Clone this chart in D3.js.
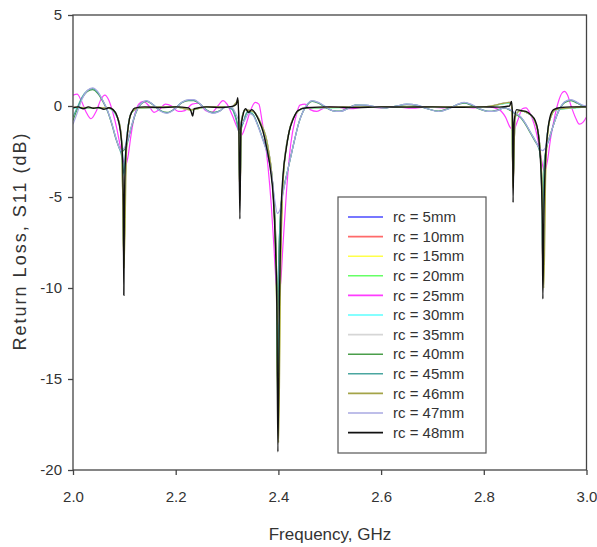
<!DOCTYPE html>
<html>
<head>
<meta charset="UTF-8">
<script src="https://d3js.org/d3.v7.min.js"></script>
<style>
  body { margin: 0; background: #fff; }
  svg { font-family: 'Liberation Sans', Arial, sans-serif; }
  .axis text { font-size: 15px; fill: #333; }
  .axis line { stroke: #444; stroke-width: 1.3; }
</style>
</head>
<body>
<svg id="chart" width="597" height="547"></svg>
<script>
// --- data: [frequency GHz, S11 dB] ---
const xTicks = [2.0, 2.2, 2.4, 2.6, 2.8, 3.0];
const yTicks = [-20, -15, -10, -5, 0, 5];

const seriesNames = ["rc = 5mm", "rc = 10mm", "rc = 15mm", "rc = 20mm", "rc = 25mm", "rc = 30mm",
  "rc = 35mm", "rc = 40mm", "rc = 45mm", "rc = 46mm", "rc = 47mm", "rc = 48mm"];

const rc5 = [[2.00,-0.08],[2.04,-0.10],[2.07,-0.12],[2.08,-0.30],[2.09,-0.90],[2.095,-2.0],[2.099,-8.5],[2.103,-2.6],[2.108,-1.0],[2.115,-0.30],[2.13,-0.10],[2.20,-0.05],[2.23,-0.20],[2.26,-0.05],[2.31,-0.05],[2.322,0.30],[2.325,-5.0],[2.328,-0.80],[2.335,-0.20],[2.35,-0.30],[2.365,-0.90],[2.38,-2.3],[2.39,-4.8],[2.396,-9.5],[2.399,-16.0],[2.403,-9.0],[2.41,-3.6],[2.42,-1.5],[2.43,-0.60],[2.45,-0.10],[2.60,-0.05],[2.80,-0.05],[2.854,0.20],[2.857,-4.2],[2.861,-0.60],[2.87,-0.25],[2.89,-0.45],[2.905,-1.3],[2.912,-3.6],[2.915,-9.0],[2.920,-3.0],[2.928,-0.80],[2.94,-0.20],[3.00,-0.05]];
const rc10 = [[2.00,-0.06],[2.04,-0.12],[2.07,-0.10],[2.08,-0.32],[2.09,-0.95],[2.095,-2.1],[2.099,-8.8],[2.103,-2.7],[2.108,-1.05],[2.115,-0.32],[2.13,-0.10],[2.20,-0.06],[2.23,-0.22],[2.26,-0.06],[2.31,-0.04],[2.322,0.30],[2.325,-5.2],[2.328,-0.85],[2.335,-0.22],[2.35,-0.30],[2.365,-0.95],[2.38,-2.35],[2.39,-4.9],[2.396,-9.8],[2.399,-16.5],[2.403,-9.3],[2.41,-3.7],[2.42,-1.55],[2.43,-0.62],[2.45,-0.12],[2.60,-0.05],[2.80,-0.06],[2.854,0.20],[2.857,-4.4],[2.861,-0.62],[2.87,-0.26],[2.89,-0.47],[2.905,-1.35],[2.912,-3.7],[2.915,-9.2],[2.920,-3.1],[2.928,-0.82],[2.94,-0.20],[3.00,-0.05]];
const rc15 = [[2.00,-0.07],[2.04,-0.11],[2.07,-0.11],[2.08,-0.31],[2.09,-0.92],[2.095,-2.05],[2.099,-8.6],[2.103,-2.65],[2.108,-1.02],[2.115,-0.31],[2.13,-0.10],[2.20,-0.05],[2.23,-0.21],[2.26,-0.05],[2.31,-0.05],[2.322,0.28],[2.325,-5.0],[2.328,-0.82],[2.335,-0.21],[2.35,-0.30],[2.365,-0.92],[2.38,-2.32],[2.39,-4.85],[2.396,-9.9],[2.400,-17.5],[2.404,-9.2],[2.41,-3.65],[2.42,-1.52],[2.43,-0.61],[2.45,-0.11],[2.60,-0.05],[2.80,-0.05],[2.854,0.18],[2.857,-4.0],[2.861,-0.61],[2.87,-0.25],[2.89,-0.46],[2.905,-1.32],[2.912,-3.65],[2.916,-9.0],[2.921,-3.05],[2.928,-0.81],[2.94,-0.20],[3.00,-0.05]];
const rc20 = [[2.00,-0.09],[2.04,-0.10],[2.07,-0.13],[2.08,-0.33],[2.09,-0.93],[2.095,-2.08],[2.099,-8.7],[2.103,-2.68],[2.108,-1.03],[2.115,-0.33],[2.13,-0.11],[2.20,-0.06],[2.23,-0.21],[2.26,-0.06],[2.31,-0.05],[2.322,0.29],[2.325,-5.1],[2.328,-0.83],[2.335,-0.22],[2.35,-0.31],[2.365,-0.93],[2.38,-2.33],[2.39,-4.88],[2.396,-9.7],[2.399,-17.0],[2.403,-9.2],[2.41,-3.68],[2.42,-1.53],[2.43,-0.62],[2.45,-0.12],[2.60,-0.06],[2.80,-0.05],[2.854,0.19],[2.857,-4.3],[2.861,-0.62],[2.87,-0.26],[2.89,-0.46],[2.905,-1.33],[2.912,-3.66],[2.915,-9.1],[2.920,-3.08],[2.928,-0.82],[2.94,-0.21],[3.00,-0.06]];
const rc25 = [[2.000,0.60],[2.008,0.65],[2.016,0.30],[2.025,-0.30],[2.035,-0.70],[2.045,-0.30],[2.055,0.40],[2.062,0.60],[2.070,0.30],[2.078,-0.40],[2.085,-1.20],[2.092,-2.20],[2.098,-3.00],[2.102,-3.30],[2.107,-2.80],[2.113,-1.60],[2.120,-0.50],[2.128,0.10],[2.137,0.25],[2.148,0.00],[2.158,-0.35],[2.168,-0.20],[2.180,0.10],[2.192,0.00],[2.205,-0.30],[2.218,-0.25],[2.232,0.10],[2.245,0.15],[2.258,-0.25],[2.270,-0.35],[2.282,0.00],[2.292,0.30],[2.300,0.10],[2.310,-0.50],[2.320,-1.20],[2.328,-1.60],[2.336,-1.10],[2.345,-0.30],[2.355,0.20],[2.362,0.10],[2.368,-0.80],[2.374,-1.90],[2.380,-3.40],[2.386,-5.40],[2.391,-7.60],[2.396,-9.80],[2.400,-10.2],[2.404,-9.80],[2.409,-7.60],[2.416,-4.60],[2.424,-2.10],[2.433,-0.70],[2.442,0.05],[2.452,0.10],[2.462,-0.20],[2.475,-0.30],[2.490,-0.10],[2.510,-0.05],[2.540,-0.15],[2.570,-0.05],[2.600,-0.10],[2.630,-0.05],[2.660,-0.12],[2.690,-0.05],[2.720,-0.10],[2.750,-0.05],[2.780,-0.10],[2.810,-0.05],[2.830,-0.20],[2.842,-0.60],[2.852,-1.20],[2.858,-1.30],[2.866,-0.80],[2.875,-0.15],[2.882,-0.10],[2.890,-0.40],[2.898,-1.00],[2.905,-1.80],[2.912,-2.90],[2.918,-3.60],[2.924,-3.00],[2.930,-1.80],[2.938,-0.60],[2.946,0.30],[2.952,0.70],[2.957,0.80],[2.963,0.60],[2.970,0.00],[2.978,-0.60],[2.986,-1.00],[2.993,-0.90],[3.000,-0.60]];
const rc30 = [[2.00,-0.10],[2.04,-0.12],[2.07,-0.12],[2.08,-0.35],[2.09,-0.95],[2.095,-2.0],[2.099,-3.8],[2.103,-2.2],[2.108,-0.95],[2.115,-0.32],[2.13,-0.10],[2.20,-0.06],[2.23,-0.20],[2.26,-0.06],[2.31,-0.05],[2.322,0.25],[2.325,-4.8],[2.328,-0.80],[2.335,-0.22],[2.35,-0.32],[2.365,-0.95],[2.38,-2.4],[2.39,-4.9],[2.396,-9.0],[2.399,-15.0],[2.403,-8.6],[2.41,-3.7],[2.42,-1.55],[2.43,-0.62],[2.45,-0.12],[2.60,-0.06],[2.80,-0.06],[2.854,0.18],[2.857,-4.0],[2.861,-0.60],[2.87,-0.26],[2.89,-0.47],[2.905,-1.35],[2.912,-3.6],[2.915,-8.5],[2.920,-3.0],[2.928,-0.80],[2.94,-0.21],[3.00,-0.06]];
const rc35 = [[2.00,-0.05],[2.04,-0.09],[2.07,-0.10],[2.08,-0.28],[2.09,-0.88],[2.095,-1.95],[2.099,-9.0],[2.103,-2.6],[2.108,-1.0],[2.115,-0.30],[2.13,-0.09],[2.20,-0.05],[2.23,-0.19],[2.26,-0.05],[2.31,-0.04],[2.322,0.32],[2.325,-5.5],[2.328,-0.85],[2.335,-0.20],[2.35,-0.29],[2.365,-0.88],[2.38,-2.25],[2.39,-4.7],[2.396,-8.4],[2.399,-12.0],[2.403,-8.2],[2.41,-3.6],[2.42,-1.5],[2.43,-0.60],[2.45,-0.10],[2.60,-0.04],[2.80,-0.05],[2.854,0.22],[2.857,-4.6],[2.861,-0.62],[2.87,-0.24],[2.89,-0.44],[2.905,-1.3],[2.912,-3.6],[2.915,-9.5],[2.920,-3.1],[2.928,-0.80],[2.94,-0.19],[3.00,-0.04]];
const rc40 = [[2.000,-0.80],[2.008,-0.20],[2.018,0.45],[2.028,0.80],[2.038,0.90],[2.048,0.70],[2.058,0.25],[2.068,-0.35],[2.076,-1.05],[2.084,-1.85],[2.090,-2.30],[2.095,-2.50],[2.100,-2.40],[2.107,-1.85],[2.115,-1.05],[2.123,-0.35],[2.133,0.12],[2.143,0.25],[2.155,0.08],[2.168,-0.22],[2.183,-0.35],[2.197,-0.18],[2.212,0.18],[2.225,0.30],[2.235,0.30],[2.248,0.08],[2.260,-0.22],[2.272,-0.35],[2.285,-0.28],[2.298,-0.05],[2.310,-0.15],[2.318,-0.70],[2.324,-1.30],[2.330,-1.00],[2.340,-0.35],[2.350,-0.45],[2.360,-1.05],[2.370,-1.85],[2.380,-2.70],[2.387,-3.80],[2.392,-5.40],[2.396,-8.50],[2.398,-12.0],[2.401,-8.20],[2.405,-5.50],[2.410,-4.60],[2.416,-3.80],[2.424,-2.80],[2.432,-1.80],[2.440,-0.90],[2.448,-0.30],[2.456,0.05],[2.466,0.25],[2.478,0.15],[2.490,-0.05],[2.505,-0.25],[2.520,-0.28],[2.535,-0.12],[2.550,0.05],[2.570,0.02],[2.590,-0.08],[2.610,-0.10],[2.630,0.00],[2.650,0.08],[2.670,0.02],[2.690,-0.15],[2.712,-0.28],[2.732,-0.12],[2.750,0.08],[2.762,0.15],[2.775,0.05],[2.792,-0.18],[2.810,-0.30],[2.826,-0.22],[2.840,-0.10],[2.852,-0.25],[2.862,-0.45],[2.872,-0.65],[2.882,-1.05],[2.892,-1.55],[2.900,-1.95],[2.908,-2.40],[2.913,-4.00],[2.915,-6.00],[2.918,-3.00],[2.922,-2.30],[2.928,-1.70],[2.935,-1.10],[2.947,-0.20],[2.958,0.20],[2.970,0.30],[2.982,0.15],[2.992,0.02],[3.000,-0.05]];
const rc45 = [[2.000,-0.60],[2.008,-0.10],[2.018,0.50],[2.028,0.85],[2.038,0.95],[2.048,0.75],[2.058,0.30],[2.068,-0.30],[2.076,-1.00],[2.084,-1.80],[2.090,-2.30],[2.095,-2.80],[2.099,-3.70],[2.103,-2.50],[2.108,-1.80],[2.115,-1.00],[2.123,-0.30],[2.133,0.15],[2.143,0.28],[2.155,0.10],[2.168,-0.22],[2.183,-0.38],[2.197,-0.18],[2.212,0.20],[2.225,0.32],[2.235,0.32],[2.248,0.10],[2.260,-0.22],[2.272,-0.38],[2.285,-0.28],[2.298,-0.05],[2.310,-0.20],[2.318,-0.80],[2.324,-1.50],[2.330,-1.05],[2.340,-0.30],[2.350,-0.45],[2.360,-1.05],[2.370,-1.85],[2.380,-2.75],[2.387,-3.80],[2.392,-5.50],[2.396,-8.50],[2.398,-11.5],[2.401,-8.00],[2.405,-5.50],[2.410,-4.50],[2.416,-3.80],[2.424,-2.80],[2.432,-1.80],[2.440,-0.90],[2.448,-0.30],[2.456,0.08],[2.466,0.28],[2.478,0.18],[2.490,-0.02],[2.505,-0.25],[2.520,-0.30],[2.535,-0.15],[2.550,0.05],[2.570,0.05],[2.590,-0.05],[2.610,-0.10],[2.630,0.00],[2.650,0.10],[2.670,0.05],[2.690,-0.15],[2.712,-0.30],[2.732,-0.15],[2.750,0.10],[2.762,0.18],[2.775,0.08],[2.792,-0.15],[2.810,-0.30],[2.826,-0.25],[2.840,-0.10],[2.852,-0.22],[2.862,-0.42],[2.872,-0.62],[2.882,-1.00],[2.892,-1.50],[2.900,-1.90],[2.908,-2.40],[2.912,-3.50],[2.915,-6.10],[2.918,-3.20],[2.922,-2.30],[2.928,-1.80],[2.935,-1.10],[2.947,-0.20],[2.958,0.22],[2.970,0.33],[2.982,0.18],[2.992,0.03],[3.000,-0.02]];
const rc46 = [[2.00,-0.07],[2.04,-0.11],[2.07,-0.10],[2.08,-0.30],[2.09,-0.90],[2.095,-2.05],[2.0995,-8.9],[2.104,-2.7],[2.108,-1.05],[2.115,-0.31],[2.13,-0.10],[2.20,-0.05],[2.23,-0.21],[2.26,-0.05],[2.31,-0.05],[2.322,0.30],[2.325,-5.2],[2.328,-0.85],[2.335,-0.21],[2.35,-0.30],[2.365,-0.90],[2.38,-2.30],[2.39,-4.8],[2.397,-10.0],[2.4005,-18.5],[2.404,-10.0],[2.41,-3.8],[2.42,-1.55],[2.43,-0.62],[2.45,-0.11],[2.60,-0.05],[2.80,-0.05],[2.854,0.20],[2.857,-4.5],[2.861,-0.62],[2.87,-0.26],[2.89,-0.46],[2.905,-1.35],[2.913,-3.8],[2.917,-10.0],[2.921,-3.2],[2.928,-0.85],[2.94,-0.20],[3.00,-0.05]];
const rc47 = [[2.000,-1.00],[2.008,-0.40],[2.018,0.40],[2.028,0.85],[2.038,1.00],[2.048,0.80],[2.058,0.30],[2.068,-0.30],[2.076,-1.00],[2.084,-1.80],[2.090,-2.30],[2.095,-2.45],[2.100,-2.30],[2.107,-1.80],[2.115,-1.00],[2.123,-0.30],[2.133,0.15],[2.143,0.30],[2.155,0.10],[2.168,-0.25],[2.183,-0.40],[2.197,-0.20],[2.212,0.20],[2.225,0.35],[2.235,0.35],[2.248,0.10],[2.260,-0.25],[2.272,-0.40],[2.285,-0.30],[2.298,-0.05],[2.310,-0.10],[2.320,-0.60],[2.327,-1.00],[2.334,-0.80],[2.342,-0.40],[2.350,-0.50],[2.360,-1.10],[2.370,-1.90],[2.380,-2.80],[2.387,-3.80],[2.393,-5.20],[2.398,-5.90],[2.403,-5.70],[2.409,-4.80],[2.416,-3.80],[2.424,-2.80],[2.432,-1.80],[2.440,-0.90],[2.448,-0.30],[2.456,0.10],[2.466,0.30],[2.478,0.20],[2.490,0.00],[2.505,-0.25],[2.520,-0.30],[2.535,-0.15],[2.550,0.05],[2.570,0.05],[2.590,-0.05],[2.610,-0.10],[2.630,0.00],[2.650,0.10],[2.670,0.05],[2.690,-0.15],[2.712,-0.30],[2.732,-0.15],[2.750,0.10],[2.762,0.20],[2.775,0.10],[2.792,-0.15],[2.810,-0.30],[2.826,-0.25],[2.840,-0.10],[2.852,-0.20],[2.862,-0.40],[2.872,-0.60],[2.882,-1.00],[2.892,-1.50],[2.900,-1.90],[2.908,-2.30],[2.914,-2.45],[2.920,-2.30],[2.927,-1.80],[2.935,-1.10],[2.947,-0.20],[2.958,0.25],[2.970,0.35],[2.982,0.20],[2.992,0.05],[3.000,0.00]];
const rc48 = [[2.000,-0.10],[2.010,-0.05],[2.020,-0.15],[2.030,-0.05],[2.040,-0.12],[2.050,-0.08],[2.060,-0.18],[2.070,-0.10],[2.078,-0.20],[2.085,-0.50],[2.090,-1.00],[2.094,-1.80],[2.097,-3.20],[2.098,-5.50],[2.099,-10.4],[2.100,-6.00],[2.102,-3.00],[2.106,-1.50],[2.110,-0.70],[2.115,-0.30],[2.120,-0.12],[2.140,-0.05],[2.170,-0.08],[2.200,-0.05],[2.225,-0.10],[2.230,-0.30],[2.233,-0.55],[2.236,-0.15],[2.260,-0.05],[2.290,-0.08],[2.310,-0.02],[2.318,0.10],[2.321,0.45],[2.323,-1.00],[2.325,-6.20],[2.327,-1.20],[2.331,-0.50],[2.336,-0.15],[2.342,-0.35],[2.348,-0.20],[2.355,-0.40],[2.362,-0.80],[2.370,-1.40],[2.378,-2.40],[2.385,-3.60],[2.390,-5.00],[2.394,-7.50],[2.397,-11.0],[2.399,-19.0],[2.402,-10.5],[2.405,-6.00],[2.409,-3.80],[2.415,-2.40],[2.421,-1.40],[2.429,-0.70],[2.438,-0.25],[2.455,-0.10],[2.500,-0.05],[2.550,-0.08],[2.600,-0.05],[2.650,-0.06],[2.700,-0.05],[2.750,-0.07],[2.800,-0.05],[2.830,-0.06],[2.850,0.00],[2.854,0.25],[2.856,-0.60],[2.857,-5.30],[2.859,-0.90],[2.864,-0.20],[2.872,-0.25],[2.882,-0.30],[2.892,-0.50],[2.900,-0.80],[2.905,-1.30],[2.909,-2.40],[2.912,-4.00],[2.914,-6.50],[2.915,-10.6],[2.917,-6.00],[2.920,-3.00],[2.924,-1.50],[2.929,-0.60],[2.936,-0.20],[2.950,-0.08],[2.970,-0.05],[3.000,-0.05]];

const seriesData = [rc5, rc10, rc15, rc20, rc25, rc30, rc35, rc40, rc45, rc46, rc47, rc48];
const seriesColors = ["#4a4aff", "#ff6a6a", "#ffff4a", "#66ff66", "#ff3cff", "#5cffff",
  "#d6d6d6", "#4a9e4a", "#4aa6a0", "#a4a448", "#a8a8e2", "#111111"];

// --- chart ---
const svg = d3.select("#chart");
const x = d3.scaleLinear().domain([2.0, 3.0]).range([73, 586.5]);
const y = d3.scaleLinear().domain([-20, 5]).range([470, 15]);

svg.append("rect").attr("width", 597).attr("height", 547).attr("fill", "#fff");

svg.append("clipPath").attr("id", "plot-clip")
  .append("rect").attr("x", 73).attr("y", 15).attr("width", 513.5).attr("height", 455);

const line = d3.line()
  .x(d => x(d[0]))
  .y(d => y(d[1]))
  .curve(d3.curveMonotoneX);

svg.append("g").attr("clip-path", "url(#plot-clip)")
  .selectAll("path")
  .data(seriesData)
  .join("path")
  .attr("d", line)
  .attr("fill", "none")
  .attr("stroke", (d, i) => seriesColors[i])
  .attr("stroke-width", (d, i) => i === 11 ? 1.4 : 1.2);

// axes
const xAxis = svg.append("g").attr("class", "axis")
  .attr("transform", "translate(0,470)")
  .call(d3.axisBottom(x).tickValues(xTicks).tickFormat(d3.format(".1f")).tickSize(5).tickPadding(16));
xAxis.select(".domain").remove();

const yAxis = svg.append("g").attr("class", "axis")
  .attr("transform", "translate(73,0)")
  .call(d3.axisLeft(y).tickValues(yTicks).tickFormat(d => String(d)).tickSize(5).tickPadding(6));
yAxis.select(".domain").remove();

// frame
svg.append("rect")
  .attr("x", 73).attr("y", 15).attr("width", 513.5).attr("height", 455)
  .attr("fill", "none").attr("stroke", "#444").attr("stroke-width", 1.3);

// axis titles
svg.append("text")
  .attr("x", 330).attr("y", 540)
  .attr("text-anchor", "middle")
  .attr("font-size", 17).attr("fill", "#333")
  .text("Frequency, GHz");

svg.append("text")
  .attr("transform", "translate(26,242) rotate(-90)")
  .attr("text-anchor", "middle")
  .attr("font-size", 18).attr("fill", "#333")
  .attr("textLength", 217).attr("lengthAdjust", "spacing")
  .text("Return Loss, S11 (dB)");

// legend
const legend = svg.append("g");
legend.append("rect")
  .attr("x", 338).attr("y", 197).attr("width", 148).attr("height", 256)
  .attr("fill", "#fff").attr("stroke", "#555").attr("stroke-width", 1.2);

const rows = legend.selectAll("g.row")
  .data(seriesNames)
  .join("g")
  .attr("class", "row")
  .attr("transform", (d, i) => `translate(0,${217 + i * 19.6})`);

rows.append("line")
  .attr("x1", 348).attr("x2", 383)
  .attr("stroke", (d, i) => seriesColors[i])
  .attr("stroke-width", 1.6);

rows.append("text")
  .attr("x", 393).attr("dy", "0.35em")
  .attr("font-size", 15).attr("fill", "#333")
  .text(d => d);
</script>
</body>
</html>
